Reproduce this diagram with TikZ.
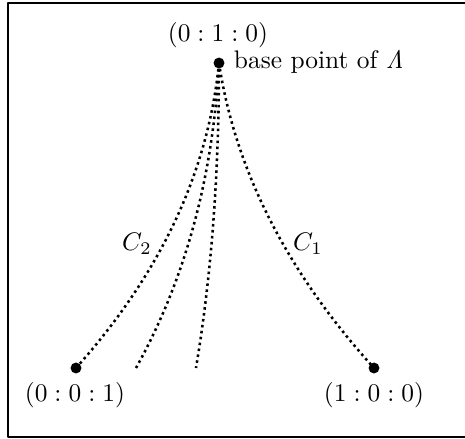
\documentclass[tikz,border=0pt]{standalone}
\usepackage{amsmath}
\tikzset{
  pt/.style={circle, fill=black, inner sep=0pt, minimum size=4.3pt},
  dotline/.style={line width=1pt, dash pattern=on 1pt off 1.35pt},
}
\begin{document}
\begin{tikzpicture}[x=0.3937pt, y=-0.3937pt, font=\normalsize, line join=round]
				\useasboundingbox (0,0) rectangle (465,439);
				% Khung
				\draw[line width=0.8pt] (8,3) rectangle (470,437);
				
				% Các điểm
				\node[pt] (P) at (219,63) {};
				\node[pt] (Q) at (76,368) {};
				\node[pt] (R) at (374,368) {};
				\coordinate (E2) at (136,368); \coordinate (E3) at (196,368);
				
				% Các đường cong chấm
				\draw[dotline] (P.center) .. controls (208,173) and (160,274) .. (Q.center);
				\draw[dotline] (P.center) .. controls (235,169) and (286,271) .. (R.center);
				\draw[dotline] (P.center) .. controls (213,176) and (186,278) .. (E2);
				\draw[dotline] (P.center) .. controls (219,177) and (211,278) .. (E3);
				
				% Nhãn
				\node (lP) at (218,35) {$(0:1:0)$};
				\node[anchor=west] (lB) at (225,62) {base point of $\mathit{\Lambda}$};
				\node (lQ) at (75,395) {$(0:0:1)$}; \node (lR) at (374,395) {$(1:0:0)$};
				\node (lC2) at (137,244) {$C_2$}; \node (lC1) at (308,244) {$C_1$};
			\end{tikzpicture}
\end{document}
